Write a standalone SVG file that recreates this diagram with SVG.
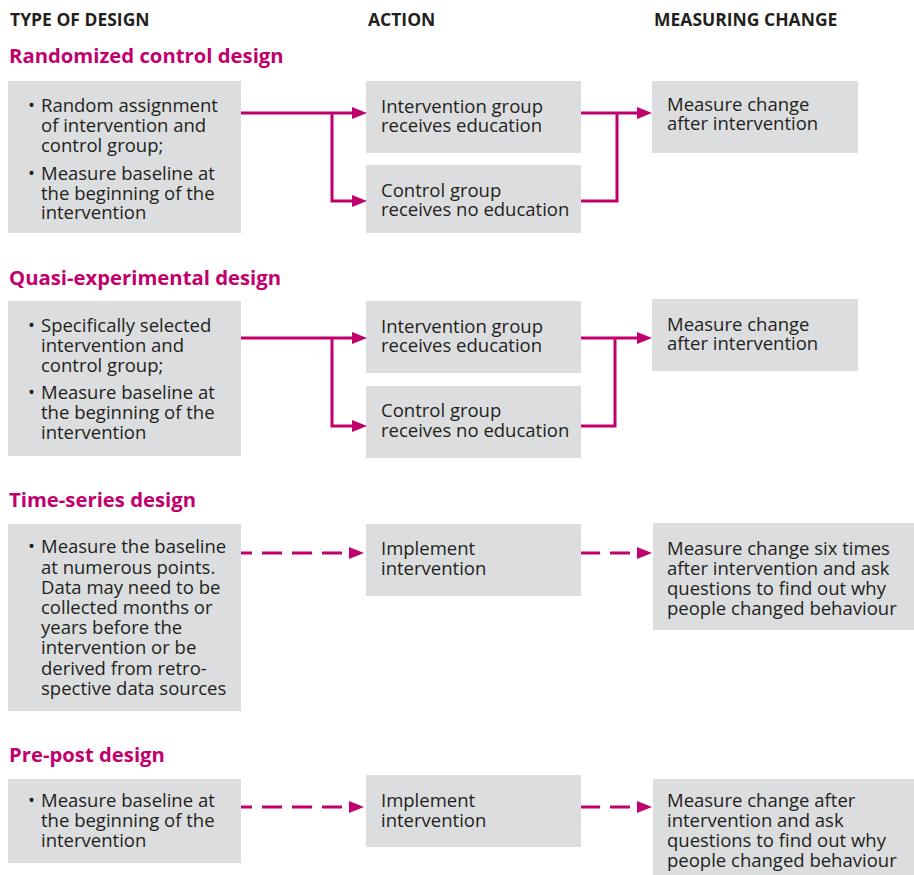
<svg xmlns="http://www.w3.org/2000/svg" width="914" height="875" viewBox="0 0 914 875">
<defs>
<style>
.box{fill:#dcdddf}
.t{font-family:"Open Sans","Noto Sans",sans-serif;font-size:18.5px;fill:#231f20}
.h{font-family:"Open Sans","Noto Sans",sans-serif;font-size:17.5px;font-weight:bold;fill:#231f20}
.sec{font-family:"Open Sans","Noto Sans",sans-serif;font-size:20.3px;font-weight:bold;fill:#c1006e}
.ln{fill:none;stroke:#c1006e;stroke-width:3}
.dash{fill:none;stroke:#c1006e;stroke-width:3;stroke-dasharray:20 10}
</style>
<marker id="ah" markerWidth="15" markerHeight="12" refX="0" refY="6" orient="auto" markerUnits="userSpaceOnUse">
<path d="M0,0 L15,6 L0,12 z" fill="#c1006e"/>
</marker>
</defs>
<rect width="914" height="875" fill="#ffffff"/>

<g id="headers">
<text class="h" x="10" y="26">TYPE OF DESIGN</text>
<text class="h" x="368" y="26">ACTION</text>
<text class="h" x="654" y="26">MEASURING CHANGE</text>
</g>

<g id="titles">
<text class="sec" x="9" y="63">Randomized control design</text>
<text class="sec" x="9" y="285">Quasi-experimental design</text>
<text class="sec" x="9" y="507">Time-series design</text>
<text class="sec" x="9" y="762">Pre-post design</text>
</g>

<g id="rc-design">
<rect class="box" x="8" y="81" width="233" height="152"/>
<text class="t"><tspan x="28" y="112">•</tspan><tspan x="41" y="112">Random assignment</tspan><tspan x="41" y="132">of intervention and</tspan><tspan x="41" y="152">control group;</tspan></text>
<text class="t"><tspan x="28" y="180">•</tspan><tspan x="41" y="180">Measure baseline at</tspan><tspan x="41" y="200">the beginning of the</tspan><tspan x="41" y="219">intervention</tspan></text>
</g>
<g id="rc-intervention">
<rect class="box" x="366" y="81" width="215" height="72"/>
<text class="t"><tspan x="381" y="113">Intervention group</tspan><tspan x="381" y="132">receives education</tspan></text>
</g>
<g id="rc-control">
<rect class="box" x="366" y="165" width="215" height="68"/>
<text class="t"><tspan x="381" y="197">Control group</tspan><tspan x="381" y="216">receives no education</tspan></text>
</g>
<g id="rc-measure">
<rect class="box" x="652" y="81" width="206" height="72"/>
<text class="t"><tspan x="667" y="111">Measure change</tspan><tspan x="667" y="130">after intervention</tspan></text>
</g>

<g id="qe-design">
<rect class="box" x="8" y="301" width="233" height="155"/>
<text class="t"><tspan x="28" y="332">•</tspan><tspan x="41" y="332">Specifically selected</tspan><tspan x="41" y="352">intervention and</tspan><tspan x="41" y="372">control group;</tspan></text>
<text class="t"><tspan x="28" y="399">•</tspan><tspan x="41" y="399">Measure baseline at</tspan><tspan x="41" y="419">the beginning of the</tspan><tspan x="41" y="439">intervention</tspan></text>
</g>
<g id="qe-intervention">
<rect class="box" x="366" y="301" width="215" height="72"/>
<text class="t"><tspan x="381" y="333">Intervention group</tspan><tspan x="381" y="352">receives education</tspan></text>
</g>
<g id="qe-control">
<rect class="box" x="366" y="386" width="215" height="72"/>
<text class="t"><tspan x="381" y="417">Control group</tspan><tspan x="381" y="437">receives no education</tspan></text>
</g>
<g id="qe-measure">
<rect class="box" x="652" y="299" width="206" height="72"/>
<text class="t"><tspan x="667" y="331">Measure change</tspan><tspan x="667" y="350">after intervention</tspan></text>
</g>

<g id="ts-design">
<rect class="box" x="8" y="524" width="233" height="187"/>
<text class="t"><tspan x="28" y="553">•</tspan><tspan x="41" y="553">Measure the baseline</tspan><tspan x="41" y="574">at numerous points.</tspan><tspan x="41" y="594">Data may need to be</tspan><tspan x="41" y="614">collected months or</tspan><tspan x="41" y="634">years before the</tspan><tspan x="41" y="654">intervention or be</tspan><tspan x="41" y="675">derived from retro-</tspan><tspan x="41" y="695">spective data sources</tspan></text>
</g>
<g id="ts-action">
<rect class="box" x="366" y="524" width="215" height="72"/>
<text class="t"><tspan x="381" y="555">Implement</tspan><tspan x="381" y="575">intervention</tspan></text>
</g>
<g id="ts-measure">
<rect class="box" x="653" y="523" width="261" height="107"/>
<text class="t"><tspan x="667" y="555">Measure change six times</tspan><tspan x="667" y="575">after intervention and ask</tspan><tspan x="667" y="595">questions to find out why</tspan><tspan x="667" y="615">people changed behaviour</tspan></text>
</g>

<g id="pp-design">
<rect class="box" x="8" y="779" width="233" height="84"/>
<text class="t"><tspan x="28" y="807">•</tspan><tspan x="41" y="807">Measure baseline at</tspan><tspan x="41" y="827">the beginning of the</tspan><tspan x="41" y="847">intervention</tspan></text>
</g>
<g id="pp-action">
<rect class="box" x="366" y="775" width="215" height="72"/>
<text class="t"><tspan x="381" y="807">Implement</tspan><tspan x="381" y="827">intervention</tspan></text>
</g>
<g id="pp-measure">
<rect class="box" x="653" y="779" width="261" height="96"/>
<text class="t"><tspan x="667" y="807">Measure change after</tspan><tspan x="667" y="827">intervention and ask</tspan><tspan x="667" y="847">questions to find out why</tspan><tspan x="667" y="867">people changed behaviour</tspan></text>
</g>

<g id="connectors">
<path class="ln" d="M241,113 H352" marker-end="url(#ah)"/>
<path class="ln" d="M332,113 V201 H352" marker-end="url(#ah)"/>
<path class="ln" d="M581,113 H637" marker-end="url(#ah)"/>
<path class="ln" d="M581,201 H617 V113"/>
<path class="ln" d="M241,338 H352" marker-end="url(#ah)"/>
<path class="ln" d="M332,338 V426 H352" marker-end="url(#ah)"/>
<path class="ln" d="M581,338 H637" marker-end="url(#ah)"/>
<path class="ln" d="M581,426 H615 V338"/>
<path class="dash" d="M241,553 H349" stroke-dashoffset="9" marker-end="url(#ah)"/>
<path class="dash" d="M581,553 H637" stroke-dashoffset="1" marker-end="url(#ah)"/>
<path class="dash" d="M241,807 H349" stroke-dashoffset="9" marker-end="url(#ah)"/>
<path class="dash" d="M581,807 H637" stroke-dashoffset="1" marker-end="url(#ah)"/>
</g>
</svg>
